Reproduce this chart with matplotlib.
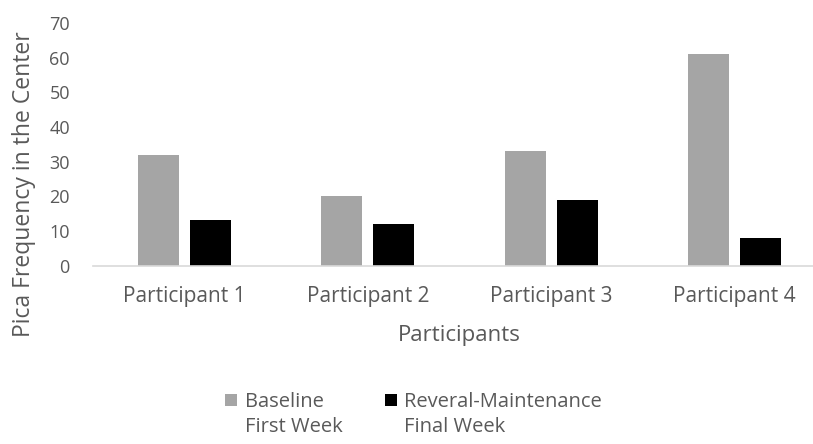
import matplotlib
matplotlib.use("Agg")
import matplotlib.pyplot as plt
import numpy as np
from matplotlib.patches import Rectangle
from matplotlib.legend_handler import HandlerPatch

participants = ["Participant 1", "Participant 2", "Participant 3", "Participant 4"]
baseline = [32, 20, 33, 61]
maintenance = [13, 12, 19, 8]
series_labels = ["Baseline\nFirst Week", "Reveral-Maintenance\nFinal Week"]

TEXT = "#595959"
plt.rcParams["font.family"] = ["Open Sans", "DejaVu Sans"]

fig = plt.figure(figsize=(8.13, 4.44), dpi=100)
ax = fig.add_axes([0.1141, 0.4020, 0.902, 0.5462])

x = np.arange(len(participants))
w = 0.224
off = 0.142
b1 = ax.bar(x - off, baseline, w, color="#A5A5A5")
b2 = ax.bar(x + off, maintenance, w, color="#000000")

ax.set_xlim(-0.5, 3.5)
ax.set_ylim(0, 70)
ax.set_yticks(range(0, 71, 10))
ax.set_xticks(x)
ax.set_xticklabels(participants)

for s in ["top", "right", "left"]:
    ax.spines[s].set_visible(False)
ax.spines["bottom"].set_color("#D9D9D9")
ax.spines["bottom"].set_linewidth(1.2)
ax.tick_params(axis="both", length=0, labelcolor=TEXT)
ax.tick_params(axis="y", labelsize=13, pad=16.5)
ax.tick_params(axis="x", labelsize=15, pad=15)

ax.set_ylabel("Pica Frequency in the Center", fontsize=16.5, color=TEXT)
ax.yaxis.set_label_coords(-0.077, 0.334)
ax.set_xlabel("Participants", fontsize=16, color=TEXT, labelpad=13)


# legend squares sit next to the first line of each two-line label
def top_square(legend, orig_handle, xdescent, ydescent, width, height, fontsize):
    s = 0.62 * fontsize
    return Rectangle((-xdescent, -ydescent + 0.78 * fontsize), s, s)


leg = fig.legend(
    handles=[b1.patches[0], b2.patches[0]],
    labels=series_labels,
    loc="upper left",
    bbox_to_anchor=(225 / 813, 1 - 392 / 444),
    borderaxespad=0,
    borderpad=0,
    ncol=2,
    frameon=False,
    fontsize=14.5,
    labelcolor=TEXT,
    handlelength=0.62,
    handletextpad=0.35,
    columnspacing=2.1,
    handler_map={Rectangle: HandlerPatch(patch_func=top_square)},
)
for t in leg.get_texts():
    t.set_linespacing(1.3)

fig.savefig("out.png", dpi=100)
